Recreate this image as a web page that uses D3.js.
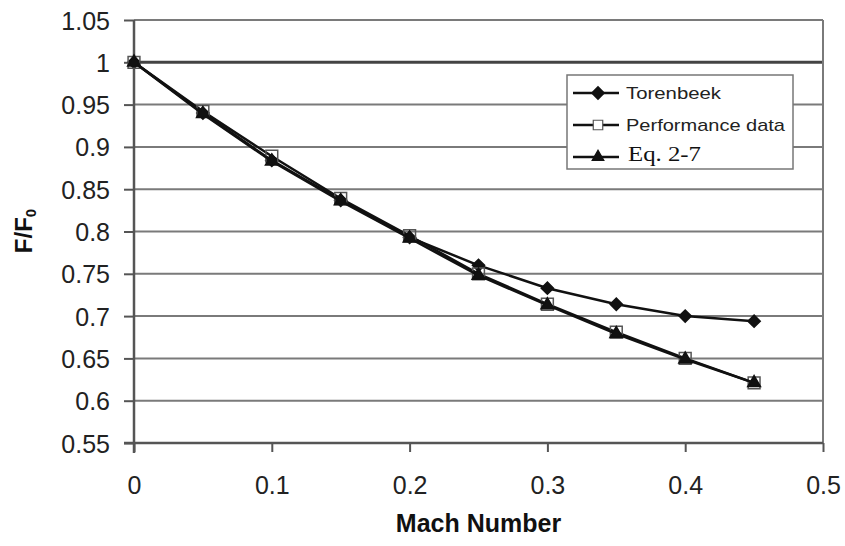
<!DOCTYPE html>
<html>
<head>
<meta charset="utf-8">
<script src="https://cdn.jsdelivr.net/npm/d3@7"></script>
<style>
  html, body { margin: 0; padding: 0; background: #fff; }
  svg { display: block; }
</style>
</head>
<body>
<svg id="chart" width="845" height="546"></svg>
<script>
// Thrust lapse ratio versus Mach number
const mach = [0, 0.05, 0.10, 0.15, 0.20, 0.25, 0.30, 0.35, 0.40, 0.45];
const torenbeek = [1.000, 0.940, 0.884, 0.837, 0.793, 0.760, 0.733, 0.714, 0.700, 0.694];
const performance = [1.000, 0.942, 0.889, 0.839, 0.795, 0.750, 0.714, 0.681, 0.650, 0.621];
const eq27 = [1.000, 0.939, 0.883, 0.836, 0.792, 0.748, 0.713, 0.679, 0.649, 0.621];
const xTicks = [0, 0.1, 0.2, 0.3, 0.4, 0.5];
const yTicks = [0.55, 0.6, 0.65, 0.7, 0.75, 0.8, 0.85, 0.9, 0.95, 1, 1.05];
const seriesNames = ["Torenbeek", "Performance data", "Eq. 2-7"];

const svg = d3.select("#chart");
const plotL = 134, plotR = 823, plotT = 20, plotB = 443;

const x = d3.scaleLinear().domain([0, 0.5]).range([plotL, plotR]);
const y = d3.scaleLinear().domain([0.55, 1.05]).range([plotB, plotT]);

// horizontal gridlines
svg.append("g").selectAll("line")
  .data(yTicks.filter(d => d > 0.55))
  .join("line")
  .attr("x1", plotL).attr("x2", plotR)
  .attr("y1", d => y(d)).attr("y2", d => y(d))
  .attr("stroke", d => d === 1 ? "#444" : "#7a7a7a")
  .attr("stroke-width", d => d === 1 ? 3 : 2);

// right border of plot area
svg.append("line")
  .attr("x1", plotR).attr("x2", plotR)
  .attr("y1", plotT).attr("y2", plotB)
  .attr("stroke", "#7a7a7a").attr("stroke-width", 2);

// axes
const font = "Liberation Sans, Arial, sans-serif";
const xAxis = svg.append("g")
  .attr("transform", `translate(0,${plotB})`)
  .call(d3.axisBottom(x).tickValues(xTicks).tickSize(9).tickSizeOuter(0).tickPadding(24)
    .tickFormat(d => d3.format("")(d)));
const yAxis = svg.append("g")
  .attr("transform", `translate(${plotL},0)`)
  .call(d3.axisLeft(y).tickValues(yTicks).tickSize(10).tickSizeOuter(0).tickPadding(14)
    .tickFormat(d => d3.format("")(d)));
[xAxis, yAxis].forEach(a => {
  a.select(".domain").attr("stroke", "#555").attr("stroke-width", 2.5);
  a.selectAll(".tick line").attr("stroke", "#555").attr("stroke-width", 2);
  a.selectAll(".tick text").attr("font-family", font).attr("font-size", 25).attr("fill", "#222");
});
yAxis.select(".domain").attr("d", `M0,${plotT}V${plotB + 10}`);
xAxis.select(".domain").attr("d", `M${plotL - 10},0H${plotR}`);
yAxis.selectAll(".tick text").attr("dy", "0.36em");

// axis titles
svg.append("text")
  .attr("x", (plotL + plotR) / 2).attr("y", 532)
  .attr("text-anchor", "middle")
  .attr("font-family", font).attr("font-weight", "bold").attr("font-size", 25)
  .attr("fill", "#111")
  .text("Mach Number");
const yt = svg.append("text")
  .attr("transform", "translate(32,231) rotate(-90)")
  .attr("text-anchor", "middle")
  .attr("font-family", font).attr("font-weight", "bold").attr("font-size", 24)
  .attr("fill", "#111");
yt.append("tspan").text("F/F");
yt.append("tspan").attr("font-size", 15).attr("dy", 4).text("0");

// series
const line = d3.line().x(d => x(d[0])).y(d => y(d[1]));
const zip = vals => mach.map((m, i) => [m, vals[i]]);

// markers: rotated square for the diamond, hollow square, filled triangle
const marker = {
  diamond: { path: d3.symbol().type(d3.symbolSquare).size(75)(), rot: 45 },
  square: { path: d3.symbol().type(d3.symbolSquare).size(140)(), rot: 0 },
  triangle: { path: d3.symbol().type(d3.symbolTriangle).size(70)(), rot: 0 }
};

function drawSeries(vals, m, fill, stroke) {
  const g = svg.append("g");
  g.append("path").datum(zip(vals))
    .attr("d", line).attr("fill", "none")
    .attr("stroke", "#111").attr("stroke-width", 2.5);
  g.selectAll("path.m").data(zip(vals)).join("path")
    .attr("class", "m")
    .attr("transform", d => `translate(${x(d[0])},${y(d[1])}) rotate(${m.rot})`)
    .attr("d", m.path)
    .attr("fill", fill).attr("stroke", stroke).attr("stroke-width", 1.5);
}
drawSeries(torenbeek, marker.diamond, "#111", "#111");
drawSeries(performance, marker.square, "none", "#555");
drawSeries(eq27, marker.triangle, "#111", "#111");

// legend
const lg = svg.append("g");
lg.append("rect")
  .attr("x", 567).attr("y", 75).attr("width", 226).attr("height", 94)
  .attr("fill", "#fff").attr("stroke", "#777").attr("stroke-width", 1.5);
const rows = [
  { m: marker.diamond, fill: "#111", stroke: "#111", y: 93, s: 1 },
  { m: marker.square, fill: "#fff", stroke: "#555", y: 125, s: 0.8 },
  { m: marker.triangle, fill: "#111", stroke: "#111", y: 157, s: 0.9 }
];
rows.forEach(r => {
  lg.append("line").attr("x1", 573).attr("x2", 619).attr("y1", r.y).attr("y2", r.y)
    .attr("stroke", "#111").attr("stroke-width", 2.5);
  lg.append("path").attr("transform", `translate(598,${r.y}) rotate(${r.m.rot}) scale(${r.s})`)
    .attr("d", r.m.path).attr("fill", r.fill)
    .attr("stroke", r.stroke).attr("stroke-width", 1.5);
});
lg.append("text").attr("x", 626).attr("y", 99)
  .attr("font-family", font).attr("font-size", 17).attr("fill", "#222")
  .attr("textLength", 95).attr("lengthAdjust", "spacingAndGlyphs")
  .text(seriesNames[0]);
lg.append("text").attr("x", 626).attr("y", 131)
  .attr("font-family", font).attr("font-size", 17).attr("fill", "#222")
  .attr("textLength", 159).attr("lengthAdjust", "spacingAndGlyphs")
  .text(seriesNames[1]);
lg.append("text").attr("x", 628).attr("y", 161)
  .attr("font-family", "Liberation Serif, Times New Roman, serif").attr("font-size", 20).attr("fill", "#111")
  .attr("textLength", 73).attr("lengthAdjust", "spacingAndGlyphs")
  .text(seriesNames[2]);
</script>
</body>
</html>
